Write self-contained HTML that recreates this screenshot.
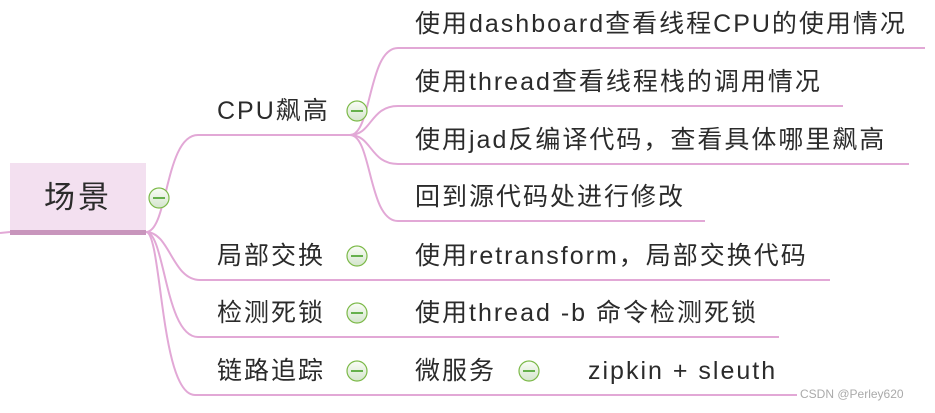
<!DOCTYPE html>
<html><head><meta charset="utf-8"><style>
body{margin:0;width:935px;height:413px;background:#fff;overflow:hidden;position:relative;font-family:"Liberation Sans","Noto Sans CJK SC",sans-serif;color:#2b2b2b}
.t{position:absolute;font-size:25px;line-height:28px;white-space:nowrap;letter-spacing:2px}
</style></head><body>
<svg width="935" height="413" style="position:absolute;left:0;top:0">
<defs><linearGradient id="g" x1="0" y1="0" x2="0" y2="1"><stop offset="0" stop-color="#fafdf7"/><stop offset="1" stop-color="#d4e5cc"/></linearGradient></defs>
<rect x="10" y="163" width="136" height="72" fill="#f3e0f0"/>
<rect x="10" y="230" width="136" height="5" fill="#c895bc"/>
<g fill="none" stroke="#e2a8d6" stroke-width="2">
<path d="M0 233 L10 232"/>
<path d="M146 232 C168 232 165 135 198 135 L350 135"/>
<path d="M146 232 C170 232 172 280 200 280 L830 280"/>
<path d="M146 232 C165 232 165 337 198 337 L779 337"/>
<path d="M146 232 C162 232 160 395 195 395 L797 395"/>
<path d="M350 135 C372 135 368 48 398 48 L925 48"/>
<path d="M350 135 C372 135 370 106 398 106 L843 106"/>
<path d="M350 135 C372 135 370 164 398 164 L909 164"/>
<path d="M350 135 C372 135 368 221 398 221 L705 221"/>
</g>
<g stroke="#7dba4a" stroke-width="1.2" fill="url(#g)">
<circle cx="159" cy="198" r="10"/>
<circle cx="357" cy="111" r="10"/>
<circle cx="357" cy="256" r="10"/>
<circle cx="357" cy="313" r="10"/>
<circle cx="357" cy="371" r="10"/>
<circle cx="529" cy="371" r="10"/>
</g>
<g stroke="#3a9a1a" stroke-width="1.6">
<path d="M153 198h12M351 111h12M351 256h12M351 313h12M351 371h12M523 371h12"/>
</g>
</svg>
<div class="t" style="left:44px;top:180px;font-size:31px;line-height:36px;letter-spacing:3px">场景</div>
<div class="t" style="left:217px;top:97px">CPU飙高</div>
<div class="t" style="left:217px;top:242px">局部交换</div>
<div class="t" style="left:217px;top:299px">检测死锁</div>
<div class="t" style="left:217px;top:357px">链路追踪</div>
<div class="t" style="left:415px;top:10px">使用dashboard查看线程CPU的使用情况</div>
<div class="t" style="left:415px;top:68px">使用thread查看线程栈的调用情况</div>
<div class="t" style="left:415px;top:126px">使用jad反编译代码，查看具体哪里飙高</div>
<div class="t" style="left:415px;top:183px">回到源代码处进行修改</div>
<div class="t" style="left:415px;top:242px">使用retransform，局部交换代码</div>
<div class="t" style="left:415px;top:299px">使用thread -b 命令检测死锁</div>
<div class="t" style="left:415px;top:357px">微服务</div>
<div class="t" style="left:588px;top:357px">zipkin + sleuth</div>
<div class="t" style="left:800px;top:387px;font-size:12px;line-height:14px;color:#aaa;letter-spacing:0">CSDN @Perley620</div>
</body></html>
